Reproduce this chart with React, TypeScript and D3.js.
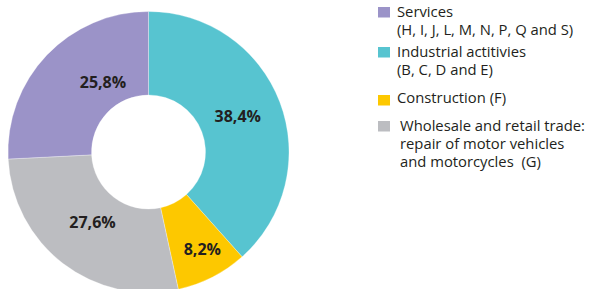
import React, { useEffect, useRef } from 'react';
import * as d3 from 'd3';

const categories = ['Industrial actitivies', 'Construction', 'Wholesale and retail trade', 'Services'];
const values = [38.4, 8.2, 27.6, 25.8];
const valueLabels = ['38,4%', '8,2%', '27,6%', '25,8%'];
const colors = ['#57c4d0', '#fdc800', '#bcbdc1', '#9b93c8'];

// legend order and wording (multi-line)
const legendOrder = [3, 0, 1, 2];
const legendLines = [
  ['Services', '(H, I, J, L, M, N, P, Q and S)'],
  ['Industrial actitivies', '(B, C, D and E)'],
  ['Construction (F)'],
  ['Wholesale and retail trade:', 'repair of motor vehicles', 'and motorcycles  (G)'],
];

const App: React.FC = () => {
  const ref = useRef<SVGSVGElement>(null);

  useEffect(() => {
    if (!ref.current) return;
    const svg = d3.select(ref.current);
    svg.selectAll('*').remove();

    const cx = 148.5, cy = 152;
    const outerR = 140.5, innerR = 57;

    const pie = d3.pie<number>().sort(null).value(d => d);
    const arcs = pie(values);
    const arc = d3.arc<d3.PieArcDatum<number>>().innerRadius(innerR).outerRadius(outerR);

    const g = svg.append('g').attr('transform', `translate(${cx},${cy})`);

    g.selectAll('path.slice')
      .data(arcs)
      .enter().append('path')
      .attr('class', 'slice')
      .attr('d', arc)
      .attr('fill', (d, i) => colors[i])
      .attr('stroke', '#ffffff')
      .attr('stroke-width', 0.3);

    // labels were hand-placed in the original, nudge from the centroid
    const nudges = [[-3, 0], [9, 9], [4, -8], [26, -2]];
    g.selectAll('text.val')
      .data(arcs)
      .enter().append('text')
      .attr('class', 'val')
      .attr('x', (d, i) => arc.centroid(d)[0] + nudges[i][0])
      .attr('y', (d, i) => arc.centroid(d)[1] + nudges[i][1])
      .attr('dy', '0.35em')
      .attr('text-anchor', 'middle')
      .style('font-family', '"Open Sans", sans-serif')
      .style('font-weight', 'bold')
      .style('font-size', '16px')
      .attr('fill', '#231f20')
      .text((d, i) => valueLabels[i]);

    // legend
    const legend = svg.append('g');
    const squareY = [7, 47, 95, 121];
    const textY = [17, 57, 103, 131];
    const textX = [397, 397, 397, 400];
    const lineH = 18;

    legendOrder.forEach((ci, k) => {
      legend.append('rect')
        .attr('x', 378)
        .attr('y', squareY[k])
        .attr('width', 12)
        .attr('height', 10.5)
        .attr('fill', colors[ci]);

      legendLines[k].forEach((line, j) => {
        legend.append('text')
          .attr('x', textX[k])
          .attr('y', textY[k] + j * lineH)
          .style('font-family', '"Open Sans", sans-serif')
          .style('font-size', '14.8px')
          .style('white-space', 'pre')
          .attr('fill', '#231f20')
          .text(line);
      });
    });
  }, []);

  return (
    <svg ref={ref} width={589} height={289} style={{ position: 'absolute', left: 0, top: 0, background: '#fff' }}></svg>
  );
};

export default App;
